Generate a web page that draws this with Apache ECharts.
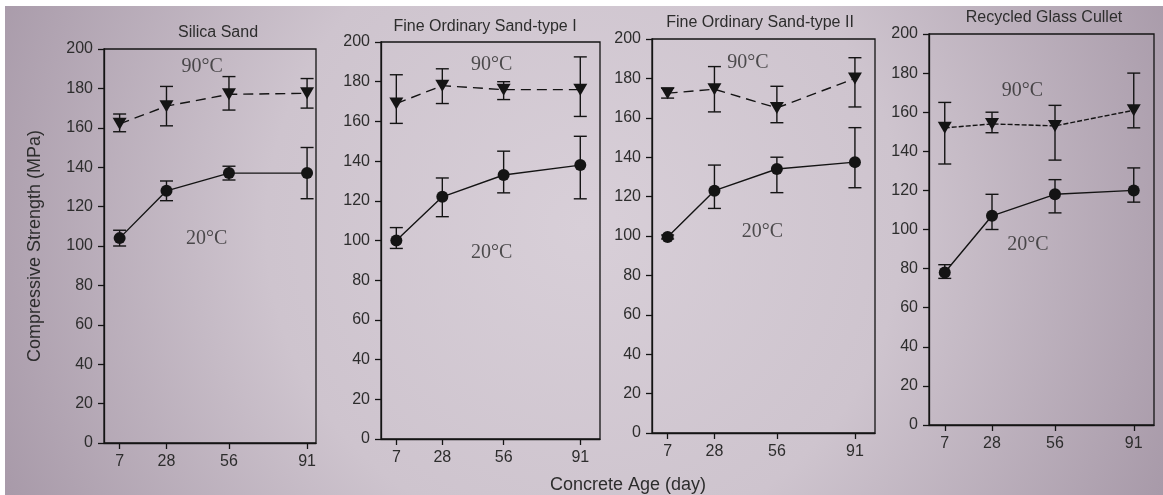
<!DOCTYPE html>
<html>
<head>
<meta charset="utf-8">
<script src="https://cdn.jsdelivr.net/npm/echarts@6/dist/echarts.min.js"></script>
<style>
html,body{margin:0;padding:0;background:#fff;}
#chart{width:1163px;height:495px;}
</style>
</head>
<body>
<div id="chart"></div>
<script>
// ---------- data ----------
const days = [7, 28, 56, 91];
const xTickLabels = [7, 28, 56, 91];
const yTicks = [0, 20, 40, 60, 80, 100, 120, 140, 160, 180, 200];
const panelTitles = ['Silica Sand', 'Fine Ordinary Sand-type I', 'Fine Ordinary Sand-type II', 'Recycled Glass Cullet'];

// 20°C series (mean, lower, upper) per panel
const mean20_P1 = [104, 128, 137, 137];
const low20_P1  = [100, 123, 133.5, 124];
const high20_P1 = [108, 133, 140.5, 150];
const mean20_P2 = [100, 122, 133, 138];
const low20_P2  = [96, 112, 124, 121];
const high20_P2 = [106.5, 131.5, 145, 152.5];
const mean20_P3 = [99.5, 123, 134, 137.5];
const low20_P3  = [98.5, 114, 122, 124.5];
const high20_P3 = [100.5, 136, 140, 155];
const mean20_P4 = [78, 107, 118, 120];
const low20_P4  = [75, 100, 108.5, 114];
const high20_P4 = [82, 118, 125.5, 131.5];

// 90°C series (mean, lower, upper) per panel
const mean90_P1 = [162, 171, 177, 177.5];
const low90_P1  = [158, 161, 169, 170];
const high90_P1 = [167, 181, 186, 185];
const mean90_P2 = [169, 178, 176, 176];
const low90_P2  = [159, 169, 171, 162.5];
const high90_P2 = [183.5, 186.5, 180, 192.5];
const mean90_P3 = [172.5, 174.5, 165, 180];
const low90_P3  = [170, 163, 157.5, 165.5];
const high90_P3 = [175, 186, 176, 190.5];
const mean90_P4 = [152, 154, 153, 161];
const low90_P4  = [133.5, 149.5, 135.5, 152];
const high90_P4 = [165, 160, 163.5, 180];

// annotation anchor points in data coordinates [day, MPa]
const label90Pos = [[44, 191], [50.5, 188.5], [43, 188], [41.5, 171]];
const label20Pos = [[46, 103.5], [50.5, 94], [49.5, 102], [44, 92]];

const panels = [
  {mean20: mean20_P1, low20: low20_P1, high20: high20_P1, mean90: mean90_P1, low90: low90_P1, high90: high90_P1},
  {mean20: mean20_P2, low20: low20_P2, high20: high20_P2, mean90: mean90_P2, low90: low90_P2, high90: high90_P2},
  {mean20: mean20_P3, low20: low20_P3, high20: high20_P3, mean90: mean90_P3, low90: low90_P3, high90: high90_P3},
  {mean20: mean20_P4, low20: low20_P4, high20: high20_P4, mean90: mean90_P4, low90: low90_P4, high90: high90_P4}
];

// ---------- layout ----------
const gridBoxes = [
  {left: 104, top: 49, width: 212, height: 394, xMax: 95},
  {left: 381, top: 42, width: 219, height: 397, xMax: 100},
  {left: 652, top: 39, width: 223, height: 394, xMax: 100},
  {left: 929, top: 34, width: 225, height: 391, xMax: 100}
];
const titleCenters = [[213, 20], [480, 14], [755, 10], [1039, 5]];
const dash90 = [[10, 6], [10, 6], [10, 6], [5, 2]];

const ink = '#141414';
const textCol = '#2d2d2d';
const sans = 'Liberation Sans, Arial, sans-serif';

const chart = echarts.init(document.getElementById('chart'));

const grids = [], xAxes = [], yAxes = [], series = [], titles = [];

function errRender(params, api) {
  const x = api.value(0);
  const lo = api.coord([x, api.value(1)]);
  const hi = api.coord([x, api.value(2)]);
  const cap = 6.5;
  const style = {stroke: ink, lineWidth: 1.4};
  return {
    type: 'group',
    children: [
      {type: 'line', shape: {x1: lo[0], y1: lo[1], x2: hi[0], y2: hi[1]}, style},
      {type: 'line', shape: {x1: lo[0] - cap, y1: lo[1], x2: lo[0] + cap, y2: lo[1]}, style},
      {type: 'line', shape: {x1: hi[0] - cap, y1: hi[1], x2: hi[0] + cap, y2: hi[1]}, style}
    ]
  };
}

gridBoxes.forEach((g, i) => {
  grids.push({left: g.left, top: g.top, width: g.width, height: g.height, show: true,
    borderColor: ink, borderWidth: 1.3, backgroundColor: 'transparent'});
  xAxes.push({
    type: 'value', gridIndex: i, min: 0, max: g.xMax,
    splitLine: {show: false},
    axisLine: {show: true, onZero: false, lineStyle: {color: ink, width: 1.3}},
    axisTick: {show: true, inside: false, length: 6, customValues: xTickLabels, lineStyle: {color: ink, width: 1.3}},
    axisLabel: {show: true, customValues: xTickLabels, margin: 11, fontSize: 16, color: textCol, fontFamily: sans}
  });
  yAxes.push({
    type: 'value', gridIndex: i, min: 0, max: 200, interval: 20,
    splitLine: {show: false},
    axisLine: {show: true, onZero: false, lineStyle: {color: ink, width: 1.3}},
    axisTick: {show: true, inside: false, length: 6, lineStyle: {color: ink, width: 1.3}},
    axisLabel: {margin: 11, fontSize: 16, color: textCol, fontFamily: sans},
    name: i === 0 ? 'Compressive Strength (MPa)' : '',
    nameLocation: 'middle', nameGap: 60,
    nameTextStyle: {fontSize: 18, color: textCol, fontFamily: sans}
  });
  titles.push({
    text: panelTitles[i], left: titleCenters[i][0], top: titleCenters[i][1], textAlign: 'center',
    textStyle: {fontSize: 16, fontWeight: 'normal', color: textCol, fontFamily: sans}
  });

  const p = panels[i];
  const pts20 = days.map((d, k) => [d, p.mean20[k]]);
  const pts90 = days.map((d, k) => [d, p.mean90[k]]);
  const err20 = days.map((d, k) => [d, p.low20[k], p.high20[k]]);
  const err90 = days.map((d, k) => [d, p.low90[k], p.high90[k]]);

  series.push({type: 'custom', xAxisIndex: i, yAxisIndex: i, renderItem: errRender, data: err20, z: 3, silent: true});
  series.push({type: 'custom', xAxisIndex: i, yAxisIndex: i, renderItem: errRender, data: err90, z: 3, silent: true});
  series.push({
    name: '20°C', type: 'line', xAxisIndex: i, yAxisIndex: i, data: pts20, z: 4,
    symbol: 'circle', symbolSize: 12,
    itemStyle: {color: ink}, lineStyle: {color: ink, width: 1.4, type: 'solid'}
  });
  series.push({
    name: '90°C', type: 'line', xAxisIndex: i, yAxisIndex: i, data: pts90, z: 4,
    symbol: 'triangle', symbolRotate: 180, symbolSize: [14, 12],
    itemStyle: {color: ink}, lineStyle: {color: ink, width: 1.4, type: dash90[i]}
  });
  series.push({
    type: 'scatter', xAxisIndex: i, yAxisIndex: i, z: 5, silent: true,
    symbolSize: 1, itemStyle: {color: 'rgba(0,0,0,0)'},
    data: [[label90Pos[i][0], label90Pos[i][1], '90°C'], [label20Pos[i][0], label20Pos[i][1], '20°C']],
    label: {show: true, position: 'inside', formatter: (q) => q.value[2], fontSize: 20,
      color: '#2a2a2a', fontFamily: 'Liberation Serif, Times New Roman, serif'}
  });
});

titles.push({
  text: 'Concrete Age (day)', left: 623, top: 471, textAlign: 'center',
  textStyle: {fontSize: 18, fontWeight: 'normal', color: textCol, fontFamily: sans}
});

chart.setOption({
  backgroundColor: '#ffffff',
  animation: false,
  title: titles,
  graphic: [{
    type: 'rect', left: 5, top: 6, z: -100, silent: true,
    shape: {width: 1158, height: 489},
    style: {fill: {
      type: 'radial', x: 0.5, y: 0.45, r: 1.3,
      colorStops: [
        {offset: 0, color: '#d8cfd8'},
        {offset: 0.5, color: '#cec4ce'},
        {offset: 1, color: '#a89aa9'}
      ]
    }}
  }],
  grid: grids,
  xAxis: xAxes,
  yAxis: yAxes,
  series: series
});
</script>
</body>
</html>
